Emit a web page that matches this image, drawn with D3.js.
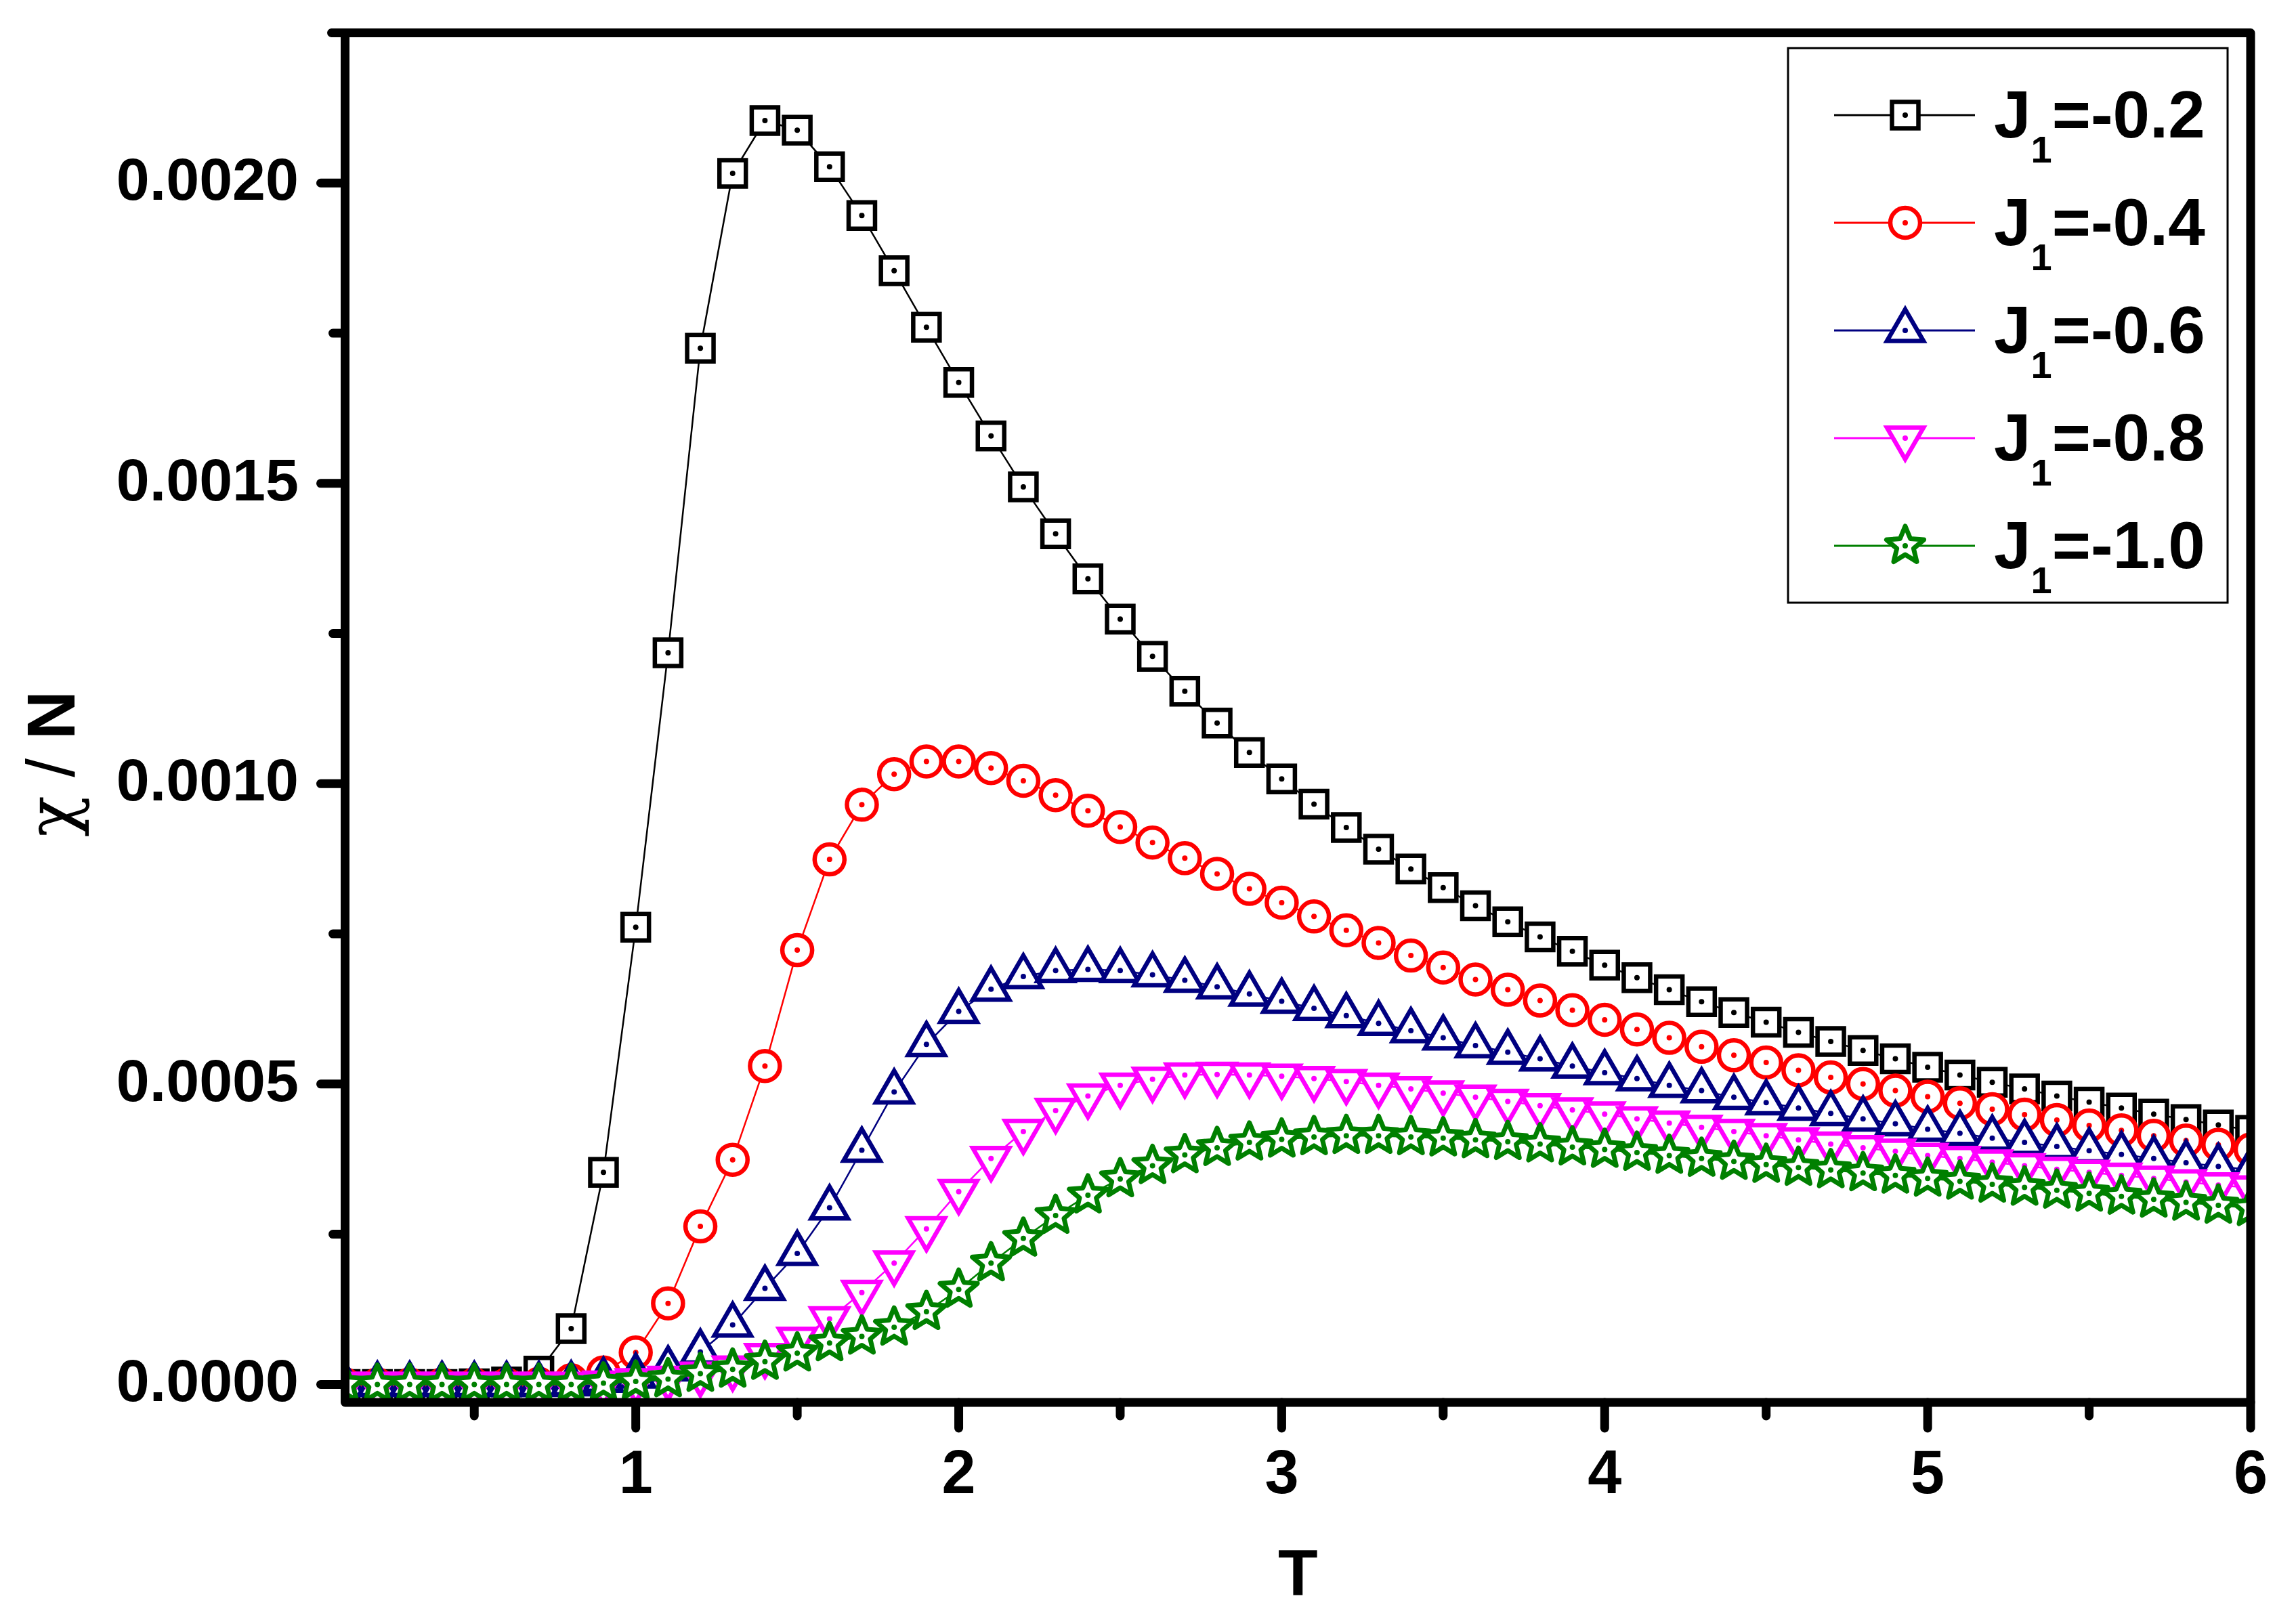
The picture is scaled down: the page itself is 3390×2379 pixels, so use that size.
<!DOCTYPE html>
<html>
<head>
<meta charset="utf-8">
<script src="https://cdn.jsdelivr.net/npm/d3@7"></script>
<style>
  html, body { margin: 0; padding: 0; background: #ffffff; }
  svg { display: block; }
</style>
</head>
<body>
<script>
// ---------------- DATA ----------------
const temperature = [
  0.1,0.2,0.3,0.4,0.5,0.6,0.7,0.8,0.9,1.0,
  1.1,1.2,1.3,1.4,1.5,1.6,1.7,1.8,1.9,2.0,
  2.1,2.2,2.3,2.4,2.5,2.6,2.7,2.8,2.9,3.0,
  3.1,3.2,3.3,3.4,3.5,3.6,3.7,3.8,3.9,4.0,
  4.1,4.2,4.3,4.4,4.5,4.6,4.7,4.8,4.9,5.0,
  5.1,5.2,5.3,5.4,5.5,5.6,5.7,5.8,5.9,6.0
];

const chiJ02 = [
  0,0,0,0,0.000001,0.000004,0.000022,0.000093,0.000353,0.000761,
  0.001218,0.001725,0.002016,0.002104,0.002088,0.002027,0.001946,0.001854,0.001760,0.001668,
  0.001579,0.001494,0.001416,0.001341,0.001274,0.001212,0.001154,0.001101,0.001052,0.001008,
  0.000966,0.000927,0.000891,0.000858,0.000827,0.000797,0.000770,0.000745,0.000721,0.000698,
  0.000677,0.000657,0.000637,0.000619,0.000603,0.000586,0.000571,0.000556,0.000542,0.000528,
  0.000515,0.000503,0.000492,0.000480,0.000470,0.000460,0.000450,0.000441,0.000432,0.000423
];

const chiJ04 = [
  0,0,0,0,0,0,0.000001,0.000007,0.000020,0.000053,
  0.000135,0.000263,0.000374,0.000530,0.000723,0.000874,0.000965,0.001016,0.001037,0.001037,
  0.001026,0.001005,0.000981,0.000955,0.000928,0.000902,0.000876,0.000850,0.000825,0.000802,
  0.000779,0.000756,0.000735,0.000714,0.000694,0.000674,0.000657,0.000639,0.000623,0.000607,
  0.000591,0.000577,0.000562,0.000548,0.000536,0.000523,0.000511,0.000500,0.000489,0.000479,
  0.000468,0.000458,0.000449,0.000440,0.000431,0.000423,0.000414,0.000406,0.000399,0.000391
];

const chiJ06 = [
  0,0,0,0,0,0,0,0.000001,0.000007,0.000014,
  0.000026,0.000054,0.000099,0.000160,0.000218,0.000294,0.000390,0.000487,0.000566,0.000621,
  0.000658,0.000679,0.000689,0.000691,0.000689,0.000682,0.000673,0.000662,0.000650,0.000638,
  0.000626,0.000614,0.000601,0.000589,0.000577,0.000564,0.000553,0.000542,0.000530,0.000519,
  0.000509,0.000498,0.000489,0.000478,0.000469,0.000460,0.000451,0.000442,0.000434,0.000425,
  0.000418,0.000410,0.000403,0.000396,0.000389,0.000383,0.000376,0.000369,0.000363,0.000357
];

const chiJ08 = [
  0,0,0,0,0,0,0,0,0.000002,0.000006,
  0.000010,0.000017,0.000027,0.000048,0.000075,0.000109,0.000153,0.000202,0.000259,0.000321,
  0.000376,0.000421,0.000456,0.000480,0.000498,0.000508,0.000515,0.000516,0.000515,0.000513,
  0.000509,0.000504,0.000498,0.000492,0.000485,0.000478,0.000471,0.000464,0.000457,0.000450,
  0.000442,0.000435,0.000428,0.000421,0.000414,0.000407,0.000400,0.000394,0.000388,0.000381,
  0.000376,0.000370,0.000364,0.000358,0.000353,0.000348,0.000343,0.000337,0.000332,0.000327
];

const chiJ10 = [
  0,0,0,0,0,0,0,0,0.000002,0.000005,
  0.000009,0.000018,0.000025,0.000038,0.000052,0.000069,0.000080,0.000095,0.000121,0.000158,
  0.000202,0.000243,0.000281,0.000315,0.000342,0.000364,0.000382,0.000394,0.000403,0.000408,
  0.000412,0.000414,0.000414,0.000412,0.000410,0.000407,0.000404,0.000400,0.000395,0.000391,
  0.000386,0.000381,0.000376,0.000371,0.000366,0.000361,0.000357,0.000352,0.000348,0.000343,
  0.000338,0.000333,0.000328,0.000323,0.000318,0.000313,0.000308,0.000303,0.000298,0.000294
];

const legendValues = ["-0.2", "-0.4", "-0.6", "-0.8", "-1.0"];
const seriesColors = ["#000000", "#ff0000", "#000080", "#ff00ff", "#008000"];
const seriesSymbols = ["square", "circle", "triangleUp", "triangleDown", "star"];
const seriesValues = [chiJ02, chiJ04, chiJ06, chiJ08, chiJ10];

const yTickValues = [0, 0.0005, 0.0010, 0.0015, 0.0020];
const yTickLabels = ["0.0000", "0.0005", "0.0010", "0.0015", "0.0020"];
const yMinorValues = [0.00025, 0.00075, 0.00125, 0.00175];
const xTickValues = [1, 2, 3, 4, 5, 6];
const xTickLabels = ["1", "2", "3", "4", "5", "6"];
const xMinorValues = [0.5, 1.5, 2.5, 3.5, 4.5, 5.5];

// ---------------- LAYOUT ----------------
const W = 3390, H = 2379;
const plot = { left: 509.5, right: 3323, top: 48.5, bottom: 2071 };
const FONT = "'Liberation Sans', Arial, Helvetica, sans-serif";

const x = d3.scaleLinear().domain([0.1, 6]).range([plot.left, plot.right]);
const y = d3.scaleLinear().domain([-0.00003, 0.00225]).range([plot.bottom, plot.top]);

const svg = d3.select("body").append("svg")
  .attr("width", W).attr("height", H)
  .attr("viewBox", `0 0 ${W} ${H}`);

svg.append("rect").attr("width", W).attr("height", H).attr("fill", "#fff");

svg.append("defs").append("clipPath").attr("id", "plotClip")
  .append("rect")
  .attr("x", plot.left).attr("y", plot.top)
  .attr("width", plot.right - plot.left).attr("height", plot.bottom - plot.top);

// symbol geometry
function symbolPath(type) {
  const p = d3.path();
  if (type === "square") {
    const s = 19.5;
    p.moveTo(-s, -s); p.lineTo(s, -s); p.lineTo(s, s); p.lineTo(-s, s); p.closePath();
  } else if (type === "circle") {
    p.moveTo(22, 0); p.arc(0, 0, 22, 0, 2 * Math.PI); p.closePath();
  } else if (type === "triangleUp" || type === "triangleDown") {
    const side = 54, h = side * Math.sqrt(3) / 2;
    const sgn = type === "triangleUp" ? 1 : -1;
    p.moveTo(0, -sgn * 2 * h / 3);
    p.lineTo(side / 2, sgn * h / 3);
    p.lineTo(-side / 2, sgn * h / 3);
    p.closePath();
  } else if (type === "star") {
    const R = 29, r = 13;
    for (let i = 0; i < 10; i++) {
      const a = -Math.PI / 2 + i * Math.PI / 5;
      const rad = i % 2 === 0 ? R : r;
      const px = rad * Math.cos(a), py = rad * Math.sin(a);
      if (i === 0) p.moveTo(px, py); else p.lineTo(px, py);
    }
    p.closePath();
  }
  return p.toString();
}

function drawMarker(g, cx, cy, type, color) {
  g.append("path")
    .attr("d", symbolPath(type))
    .attr("transform", `translate(${cx},${cy})`)
    .attr("fill", "#fff")
    .attr("stroke", color)
    .attr("stroke-width", type === "star" ? 7 : 6.5)
    .attr("stroke-linejoin", type === "star" ? "round" : "miter");
  g.append("circle")
    .attr("cx", cx).attr("cy", cy).attr("r", 4)
    .attr("fill", color);
}

// ---------------- SERIES ----------------
const plotG = svg.append("g").attr("clip-path", "url(#plotClip)");
const line = d3.line().x(d => x(d[0])).y(d => y(d[1]));

seriesValues.forEach((vals, si) => {
  const pts = temperature.map((t, i) => [t, vals[i]]);
  const g = plotG.append("g");
  g.append("path")
    .attr("d", line(pts))
    .attr("fill", "none")
    .attr("stroke", seriesColors[si])
    .attr("stroke-width", 2.5);
  pts.forEach(d => drawMarker(g, x(d[0]), y(d[1]), seriesSymbols[si], seriesColors[si]));
});

// ---------------- AXES / FRAME ----------------
const axisG = svg.append("g")
  .attr("stroke", "#000").attr("stroke-width", 13).attr("stroke-linecap", "round");

// y ticks (outward, left)
yTickValues.forEach(v => {
  axisG.append("line").attr("x1", plot.left).attr("x2", plot.left - 36)
    .attr("y1", y(v)).attr("y2", y(v));
});
yMinorValues.forEach(v => {
  axisG.append("line").attr("x1", plot.left).attr("x2", plot.left - 18)
    .attr("y1", y(v)).attr("y2", y(v));
});
// x ticks (outward, down)
xTickValues.forEach(v => {
  axisG.append("line").attr("x1", x(v)).attr("x2", x(v))
    .attr("y1", plot.bottom).attr("y2", plot.bottom + 38);
});
xMinorValues.forEach(v => {
  axisG.append("line").attr("x1", x(v)).attr("x2", x(v))
    .attr("y1", plot.bottom).attr("y2", plot.bottom + 20);
});

// frame
svg.append("rect")
  .attr("x", plot.left).attr("y", plot.top)
  .attr("width", plot.right - plot.left).attr("height", plot.bottom - plot.top)
  .attr("fill", "none").attr("stroke", "#000").attr("stroke-width", 13)
  .attr("stroke-linejoin", "round");
svg.append("line")
  .attr("x1", plot.left - 20).attr("x2", plot.left)
  .attr("y1", plot.top).attr("y2", plot.top)
  .attr("stroke", "#000").attr("stroke-width", 13).attr("stroke-linecap", "round");

// tick labels
svg.append("g").selectAll("text").data(yTickValues).join("text")
  .attr("x", 441).attr("y", d => y(d) + 25)
  .attr("text-anchor", "end")
  .attr("font-family", FONT).attr("font-weight", "bold").attr("font-size", 88)
  .text((d, i) => yTickLabels[i]);

svg.append("g").selectAll("text").data(xTickValues).join("text")
  .attr("x", d => x(d)).attr("y", 2205)
  .attr("text-anchor", "middle")
  .attr("font-family", FONT).attr("font-weight", "bold").attr("font-size", 90)
  .text((d, i) => xTickLabels[i]);

// axis titles
svg.append("text")
  .attr("x", (plot.left + plot.right) / 2).attr("y", 2356)
  .attr("text-anchor", "middle")
  .attr("font-family", FONT).attr("font-weight", "bold").attr("font-size", 96)
  .text("T");

const yTitle = svg.append("text")
  .attr("transform", "translate(110,1128) rotate(-90)")
  .attr("text-anchor", "middle")
  .attr("font-family", FONT).attr("font-size", 100);
yTitle.append("tspan").attr("font-family", "'DejaVu Serif', 'Liberation Serif', serif").text("χ");
yTitle.append("tspan").text(" / ");
yTitle.append("tspan").attr("font-weight", "bold").text("N");

// ---------------- LEGEND ----------------
const legend = svg.append("g");
legend.append("rect")
  .attr("x", 2640).attr("y", 71).attr("width", 649).attr("height", 819)
  .attr("fill", "#fff").attr("stroke", "#000").attr("stroke-width", 3);

legendValues.forEach((val, i) => {
  const ry = 170 + i * 159;
  legend.append("line")
    .attr("x1", 2708).attr("x2", 2916).attr("y1", ry).attr("y2", ry)
    .attr("stroke", seriesColors[i]).attr("stroke-width", 3);
  drawMarker(legend, 2813, ry, seriesSymbols[i], seriesColors[i]);
  const t = legend.append("text")
    .attr("x", 2944).attr("y", ry + 33)
    .attr("font-family", FONT).attr("font-weight", "bold").attr("font-size", 98);
  t.append("tspan").text("J");
  t.append("tspan").attr("font-size", 56).attr("dy", 37).text("1");
  t.append("tspan").attr("dy", -37).text("=" + val);
});
</script>
</body>
</html>
